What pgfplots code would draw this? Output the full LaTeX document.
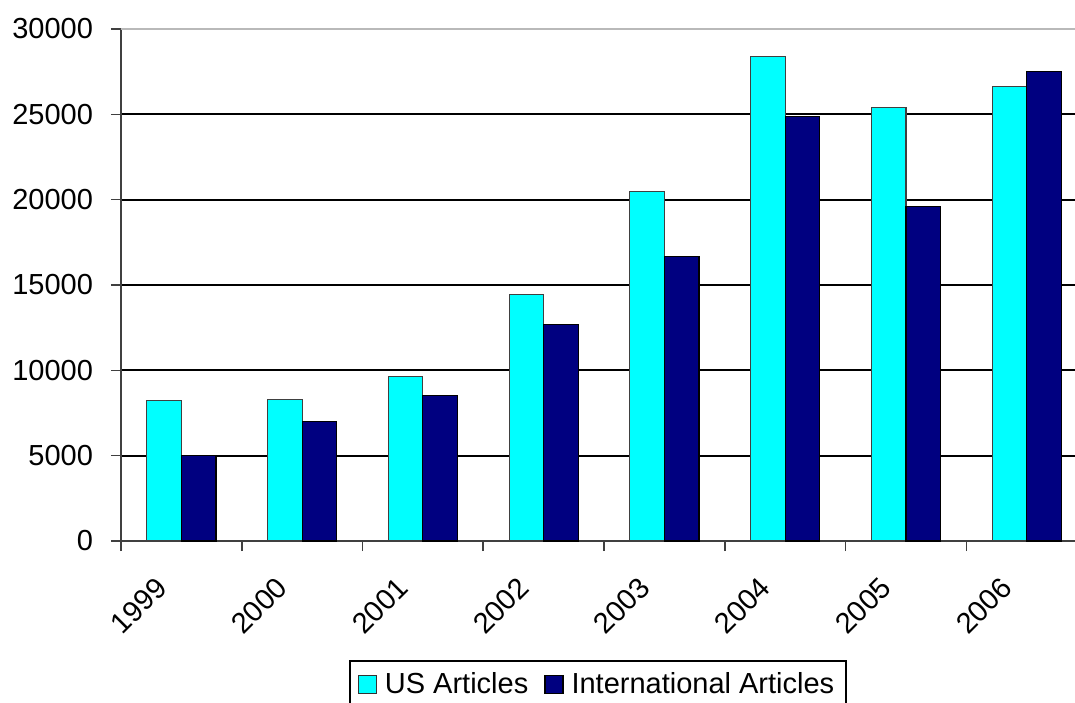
\documentclass[border=0pt]{standalone}
\usepackage{fontspec}
\setmainfont{Liberation Sans}
\usepackage{pgfplots}
\pgfplotsset{compat=1.18}
\definecolor{usc}{RGB}{0,255,255}
\definecolor{intc}{RGB}{0,0,128}
\begin{document}
\begin{tikzpicture}
\begin{axis}[
    scale only axis,
    width=477pt, height=256pt,
    xmin=-0.5, xmax=7.4,
    ymin=0, ymax=30000,
    axis x line*=bottom, axis y line*=left,
    axis line style={black!75, line width=1pt},
    tick align=outside,
    major tick length=5pt,
    tick style={black!75, line width=0.8pt},
    xtick={-0.5,0.5,...,6.5},
    xticklabels={},
    extra x ticks={0,1,2,3,4,5,6,7},
    extra x tick labels={1999,2000,2001,2002,2003,2004,2005,2006},
    extra x tick style={major tick length=0pt, xticklabel style={xshift=-7.5pt, yshift=-18.5pt, rotate=45, anchor=east}},
    ytick={0,5000,...,25000},
    extra y ticks={30000},
    extra y tick style={grid style={gray!55, line width=1pt}},
    ymajorgrids,
    grid style={black, line width=0.9pt},
    scaled y ticks=false,
    /pgf/number format/assume math mode=true,
    /pgf/number format/set thousands separator={},
    ticklabel style={font=\fontsize{14.5}{17}\selectfont},
    yticklabel style={xshift=-5.5pt},
    ybar, bar width=0.286,
    legend columns=-1,
    legend style={at={(0.5,-0.2324)}, anchor=north, draw=black, line width=0.8pt,
        font=\fontsize{14.5}{17}\selectfont, inner sep=4pt,
        /tikz/every odd column/.append style={column sep=2pt},
        /tikz/every even column/.append style={column sep=6pt}},
]
\addplot[fill=usc, draw=black!75, line width=0.6pt, bar shift=-0.143,
    legend image code/.code={\draw[fill=usc, draw=black!80, line width=0.6pt] (0pt,-4.5pt) rectangle (9pt,4.5pt);}]
coordinates {(0,8216) (1,8275) (2,9620) (3,14440) (4,20480) (5,28400) (6,25410) (7,26640)};
\addlegendentry{US Articles}
\addplot[fill=intc, draw=black, line width=0.6pt, bar shift=0.143,
    legend image code/.code={\draw[fill=intc, draw=black, line width=0.6pt] (0pt,-4.5pt) rectangle (9pt,4.5pt);}]
coordinates {(0,5030) (1,6980) (2,8510) (3,12680) (4,16670) (5,24880) (6,19600) (7,27520)};
\addlegendentry{International Articles}
\end{axis}
\pgfresetboundingbox
\path (current axis.south west) ++(-60.5pt,-80.5pt) rectangle ++(537.5pt,351pt);
\end{tikzpicture}
\end{document}
